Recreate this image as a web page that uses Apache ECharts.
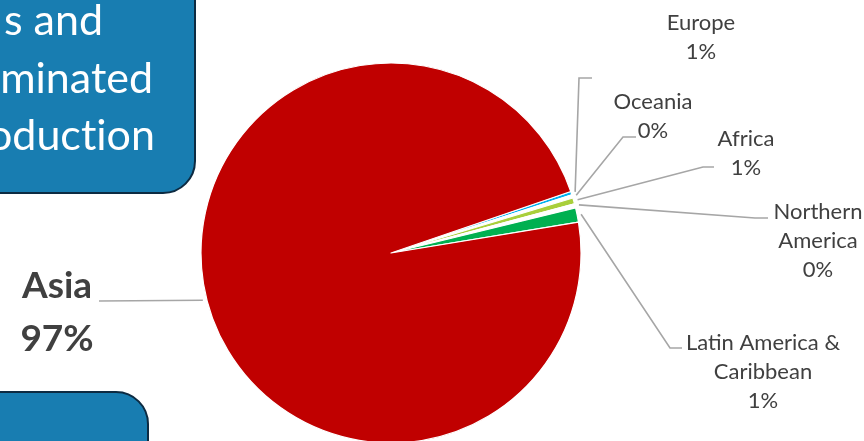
<!DOCTYPE html>
<html>
<head>
<meta charset="utf-8">
<script src="https://cdn.jsdelivr.net/npm/echarts@6/dist/echarts.min.js"></script>
<style>
html, body { margin: 0; padding: 0; background: #fff; }
#chart { width: 864px; height: 441px; }
</style>
</head>
<body>
<div id="chart"></div>
<script>
// share of production by region (percent)
var regions = ['Europe', 'Oceania', 'Africa', 'Northern America', 'Latin America & Caribbean', 'Asia'];
var shares = [0.3, 0.28, 0.5, 0.36, 1.22, 97.34];
var shareLabels = ['1%', '0%', '1%', '0%', '1%', '97%'];
var labelNames = ['Europe', 'Oceania', 'Africa', 'Northern\nAmerica', 'Latin America &\nCaribbean', 'Asia'];
var sliceColors = ['#00B0F0', '#FFFFFF', '#A9CF3B', '#FFFFFF', '#00B050', '#C00000'];

// where each label sits and where its leader line bends
var labelSpots = [
	{ at: [701, 37], line: [[579, 78], [592, 78]] },
	{ at: [653, 116], line: [[623, 137], [636, 137]] },
	{ at: [746, 153], line: [[703, 167], [714, 167]] },
	{ at: [818, 241], line: [[755, 218], [768, 218]] },
	{ at: [763, 372], line: [[670, 348], [682, 348]] },
	{ at: [57, 313], line: [[99, 301]] }
];

var chart = echarts.init(document.getElementById('chart'));

var pieData = [];
for (var i = 0; i < regions.length; i++)
{
	pieData.push({
		name: regions[i],
		value: shares[i],
		itemStyle: { color: sliceColors[i] }
	});
}

// the \u200C keeps the font from joining "ti" into a ligature
chart.setOption({
	animation: false,
	textStyle: { fontFamily: 'Lato' },
	graphic: [
		{
			type: 'rect',
			shape: { x: -60, y: -60, width: 255, height: 253, r: 32 },
			style: { fill: '#187DB1', stroke: '#0D2B42', lineWidth: 2 }
		},
		{
			type: 'text',
			style: { text: 's and', x: 103, y: 21, align: 'right', verticalAlign: 'middle',
				fill: '#fff', font: '43px Lato' }
		},
		{
			type: 'text',
			style: { text: 'minated', x: 153, y: 79, align: 'right', verticalAlign: 'middle',
				fill: '#fff', font: '43px Lato' }
		},
		{
			type: 'text',
			style: { text: 'oduct\u200Cion', x: 155, y: 136, align: 'right', verticalAlign: 'middle',
				fill: '#fff', font: '43px Lato' }
		},
		{
			type: 'rect',
			shape: { x: -60, y: 392, width: 208, height: 120, r: 32 },
			style: { fill: '#187DB1', stroke: '#0D2B42', lineWidth: 2 }
		}
	],
	series: [
		{
			type: 'pie',
			center: [391, 253],
			radius: 190,
			startAngle: 18.9,
			clockwise: true,
			avoidLabelOverlap: false,
			itemStyle: { borderColor: '#fff', borderWidth: 1.2 },
			data: pieData,
			label: {
				show: true,
				color: '#404040',
				fontFamily: 'Lato',
				fontSize: 22,
				lineHeight: 29,
				align: 'center',
				formatter: function(p)
				{
					if (p.dataIndex === 5)
						return '{big|' + labelNames[5] + '}\n{big|' + shareLabels[5] + '}';
					return labelNames[p.dataIndex] + '\n' + shareLabels[p.dataIndex];
				},
				rich: {
					big: { fontSize: 37, fontWeight: 'bold', lineHeight: 53, color: '#404040', fontFamily: 'Lato' }
				}
			},
			labelLine: {
				show: true,
				length: 10,
				length2: 10,
				lineStyle: { color: '#A6A6A6', width: 1.6 }
			},
			labelLayout: function(params)
			{
				var spot = labelSpots[params.dataIndex];
				var p = params.labelLinePoints;
				var start = spot.line[0];
				if (p && p.length > 1)
				{
					var dx = p[1][0] - p[0][0], dy = p[1][1] - p[0][1];
					var len = Math.sqrt(dx * dx + dy * dy) || 1;
					start = [p[0][0] + dx / len * 4, p[0][1] + dy / len * 4];
				}
				return {
					x: spot.at[0],
					y: spot.at[1],
					align: 'center',
					verticalAlign: 'middle',
					labelLinePoints: [start].concat(spot.line)
				};
			}
		}
	]
});
</script>
</body>
</html>
